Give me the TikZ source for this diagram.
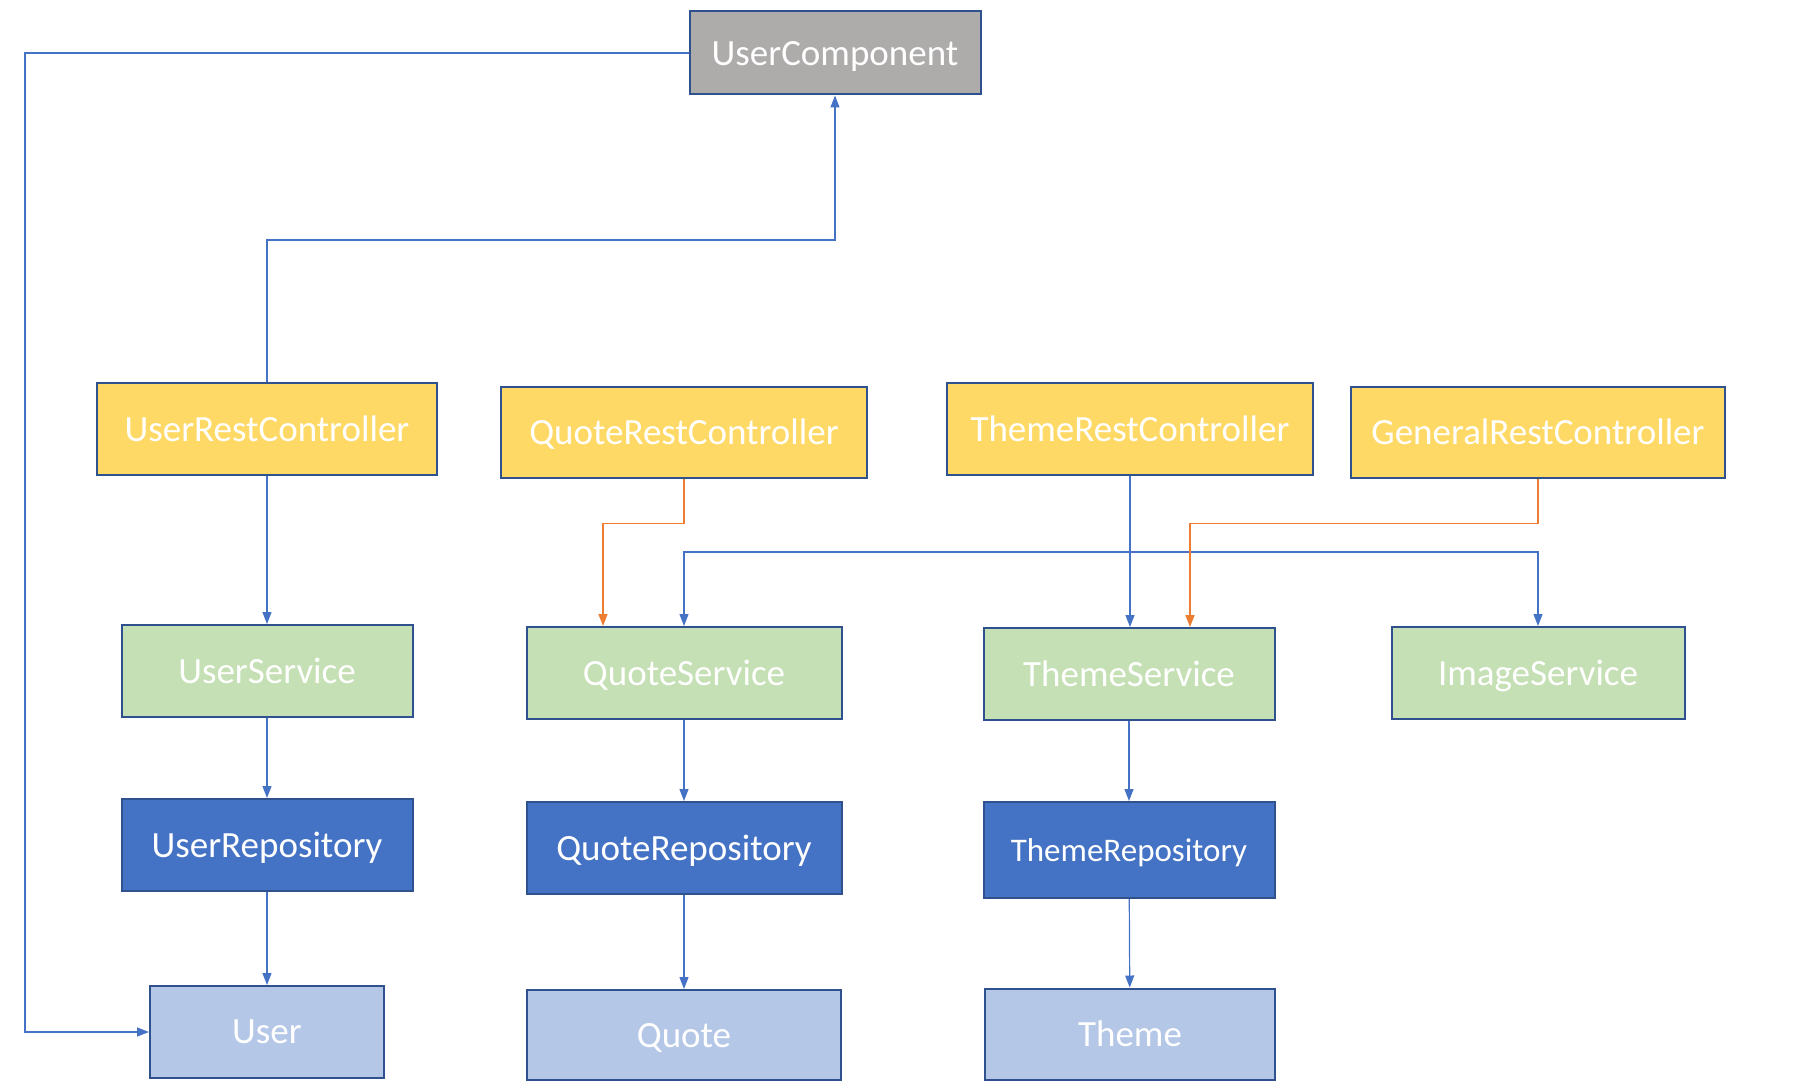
\documentclass[tikz,border=0pt]{standalone}
\usepackage{fontspec}
\setmainfont{Carlito}
\usetikzlibrary{positioning,arrows.meta}
\definecolor{boxedge}{HTML}{2F528F}
\definecolor{ctrlyellow}{HTML}{FFD966}
\definecolor{svcgreen}{HTML}{C5E0B4}
\definecolor{repoblue}{HTML}{4472C4}
\definecolor{entityblue}{HTML}{B4C7E7}
\definecolor{compgray}{HTML}{AEABAB}
\definecolor{linkblue}{HTML}{4472C4}
\definecolor{linkorange}{HTML}{ED7D31}

\begin{document}
\begin{tikzpicture}[x=0.5pt,y=-0.5pt,
    box/.style={draw=boxedge, line width=1pt, text=white, inner sep=0pt,
        text depth=0pt, minimum height=46pt, font=\fontsize{18.5}{22}\selectfont},
    ctrl/.style={box, fill=ctrlyellow},
    svc/.style={box, fill=svcgreen},
    repo/.style={box, fill=repoblue},
    entity/.style={box, fill=entityblue},
    conn/.style={draw=linkblue, line width=0.6pt, -{Triangle[width=4.5pt,length=6pt]}},
    oconn/.style={conn, draw=linkorange, line width=0.8pt}
]
\useasboundingbox (0,0) rectangle (1798,1086);

  % component
  \node[box, fill=compgray, minimum width=145.5pt, minimum height=41.5pt] (ucomp) at (835,53) {UserComponent};

  % controllers
  \node[ctrl, minimum width=170pt] (urc) at (267,429) {UserRestController};
  \node[ctrl, minimum width=183pt, minimum height=45.5pt] (qrc) at (684,432) {QuoteRestController};
  \node[ctrl, minimum width=183pt] (trc) at (1130,429) {ThemeRestController};
  \node[ctrl, minimum width=187pt, minimum height=45.5pt] (grc) at (1538,432) {GeneralRestController};

  % services
  \node[svc, minimum width=145.5pt] (usvc) at (267,671) {UserService};
  \node[svc, minimum width=157.5pt] (qsvc) at (684,673) {QuoteService};
  \node[svc, minimum width=145.5pt] (tsvc) at (1129,674) {ThemeService};
  \node[svc, minimum width=146.5pt] (isvc) at (1538,673) {ImageService};

  % repositories
  \node[repo, minimum width=145.5pt] (urepo) at (267,845) {UserRepository};
  \node[repo, minimum width=157.5pt] (qrepo) at (684,848) {QuoteRepository};
  \node[repo, minimum width=145.5pt, minimum height=48pt, font=\fontsize{16.5}{20}\selectfont] (trepo) at (1129,850) {ThemeRepository};

  % entities
  \node[entity, minimum width=117pt] (user) at (267,1032) {User};
  \node[entity, minimum width=157pt, minimum height=45pt] (quote) at (684,1035) {Quote};
  \node[entity, minimum width=145pt, minimum height=45.5pt] (theme) at (1130,1034) {Theme};

  \coordinate (lft) at (25,53);
  \coordinate (ujoin) at (835,240);

\draw[conn] (ucomp.west) -- (lft) |- (user.west);
\draw[conn] (urc.north) |- (ujoin) -- (ucomp.south);
\draw[conn] (urc) -- (usvc);
\draw[oconn] (qrc.south) -- ++(0,45) -| ([xshift=-40.5pt]qsvc.north);
\draw[conn] (trc.south) -- ++(0,76) -| (qsvc.north);
\draw[conn] (trc.south) -- ++(0,76) -| (isvc.north);
\draw[conn] (trc.south) -- (trc.south |- tsvc.north);
\draw[oconn] (grc.south) -- ++(0,45) -| ([xshift=30.5pt]tsvc.north);
\draw[conn] (usvc) -- (urepo);
\draw[conn] (urepo) -- (user);
\draw[conn] (qsvc) -- (qrepo);
\draw[conn] (qrepo) -- (quote);
\draw[conn] (tsvc) -- (trepo);
\draw[conn] (trepo) -- (theme);
\end{tikzpicture}
\end{document}
